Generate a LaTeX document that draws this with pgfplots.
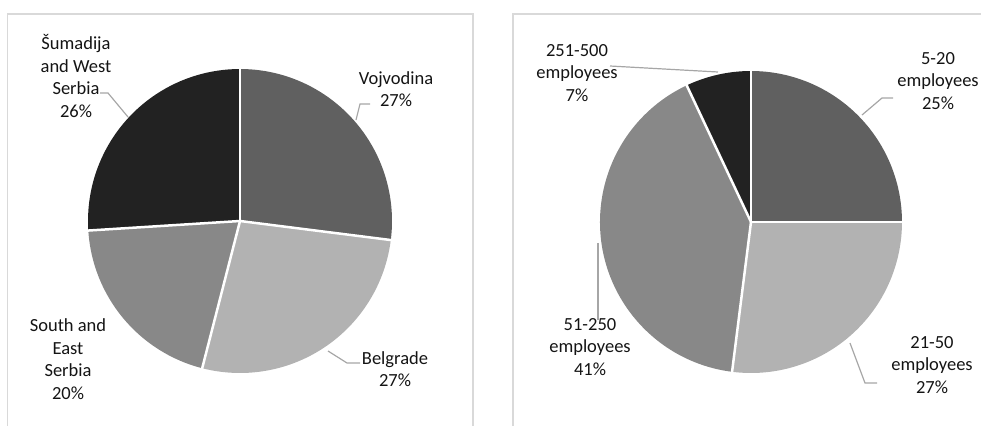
\documentclass[border=0pt]{standalone}
\usepackage{pgfplots}
\usepackage{pgfplotstable}
\usepackage{fontspec}
\setmainfont{Carlito}
\pgfplotsset{compat=1.18}
\definecolor{cA}{HTML}{606060}
\definecolor{cB}{HTML}{B2B2B2}
\definecolor{cC}{HTML}{888888}
\definecolor{cD}{HTML}{222222}
\definecolor{frame}{HTML}{D9D9D9}
\definecolor{lead}{HTML}{A6A6A6}
\definecolor{txt}{HTML}{141414}

\pgfplotstableread[col sep=comma]{
name,value,color
Vojvodina,27,cA
Belgrade,27,cB
SouthEast,20,cC
Sumadija,26,cD
}\regiontable

\pgfplotstableread[col sep=comma]{
name,value,color
5-20,25,cA
21-50,27,cB
51-250,41,cC
251-500,7,cD
}\sizetable

% draw a pie from a table: #1 table, #2 cx, #3 cy, #4 radius
\newcommand\drawpie[4]{%
  \pgfplotstablegetrowsof{#1}\pgfmathtruncatemacro\lastrow{\pgfplotsretval-1}%
  \gdef\cumang{90}%
  \foreach \i in {0,...,\lastrow}{%
    \pgfplotstablegetelem{\i}{value}\of#1\let\slval=\pgfplotsretval
    \pgfplotstablegetelem{\i}{color}\of#1\let\slcol=\pgfplotsretval
    \pgfmathsetmacro\endang{\cumang-3.6*\slval}%
    \pgfmathsetmacro\sx{#2+#4*cos(\cumang)}%
    \pgfmathsetmacro\sy{#3+#4*sin(\cumang)}%
    \fill[fill=\slcol] (axis cs:#2,#3) -- (axis cs:\sx,\sy)
      arc[start angle=\cumang, end angle=\endang, radius=#4bp] -- cycle;
    \xdef\cumang{\endang}%
  }%
  \gdef\cumang{90}%
  \foreach \i in {0,...,\lastrow}{%
    \pgfplotstablegetelem{\i}{value}\of#1\let\slval=\pgfplotsretval
    \pgfmathsetmacro\endang{\cumang-3.6*\slval}%
    \pgfmathsetmacro\sx{#2+(#4+2)*cos(\cumang)}%
    \pgfmathsetmacro\sy{#3+(#4+2)*sin(\cumang)}%
    \draw[white, line width=2.5bp] (axis cs:#2,#3) -- (axis cs:\sx,\sy);
    \xdef\cumang{\endang}%
  }%
}

\begin{document}
\begin{tikzpicture}
\begin{axis}[
  x=1bp, y=1bp,
  xmin=0, xmax=981, ymin=0, ymax=426,
  hide axis, clip=false, anchor=origin, at={(0,0)},
]
% frames
\draw[frame, line width=1.5bp] (axis cs:7.5,0) -- (axis cs:7.5,412) -- (axis cs:473,412) -- (axis cs:473,0);
\draw[frame, line width=1.5bp] (axis cs:513,0) -- (axis cs:513,412) -- (axis cs:981,412);

\pgfplotsextra{\drawpie{\regiontable}{240}{205}{152}}
\pgfplotsextra{\drawpie{\sizetable}{751}{204}{151}}

% leader lines
\begin{scope}[lead, line width=1.2bp]
\draw (axis cs:100,333) -- (axis cs:108,333) -- (axis cs:128,309);
\draw (axis cs:356,306) -- (axis cs:360,322) -- (axis cs:370,322);
\draw (axis cs:328,75) -- (axis cs:347,63) -- (axis cs:360,63);
\draw (axis cs:893,328) -- (axis cs:882,328) -- (axis cs:862,311);
\draw (axis cs:850,83) -- (axis cs:865,43) -- (axis cs:877,43);
\draw (axis cs:598,183) -- (axis cs:598,106);
\draw (axis cs:610,360) -- (axis cs:718,354);
\end{scope}

% labels
\begin{scope}[every node/.style={align=center, inner sep=0pt, text=txt,
  font=\fontsize{18.5bp}{22.5bp}\selectfont}]
\node at (axis cs:76,350) {Šumadija\\and West\\Serbia\\26\%};
\node at (axis cs:396,337) {Vojvodina\\27\%};
\node at (axis cs:395,57) {Belgrade\\27\%};
\node at (axis cs:68,67) {South and\\East\\Serbia\\20\%};
\node at (axis cs:938,345) {5-20\\employees\\25\%};
\node at (axis cs:932,61) {21-50\\employees\\27\%};
\node at (axis cs:590,79) {51-250\\employees\\41\%};
\node at (axis cs:577,353) {251-500\\employees\\7\%};
\end{scope}
\end{axis}
\pgfresetboundingbox
\path[use as bounding box] (0,0) rectangle (981bp,426bp);
\end{tikzpicture}
\end{document}
